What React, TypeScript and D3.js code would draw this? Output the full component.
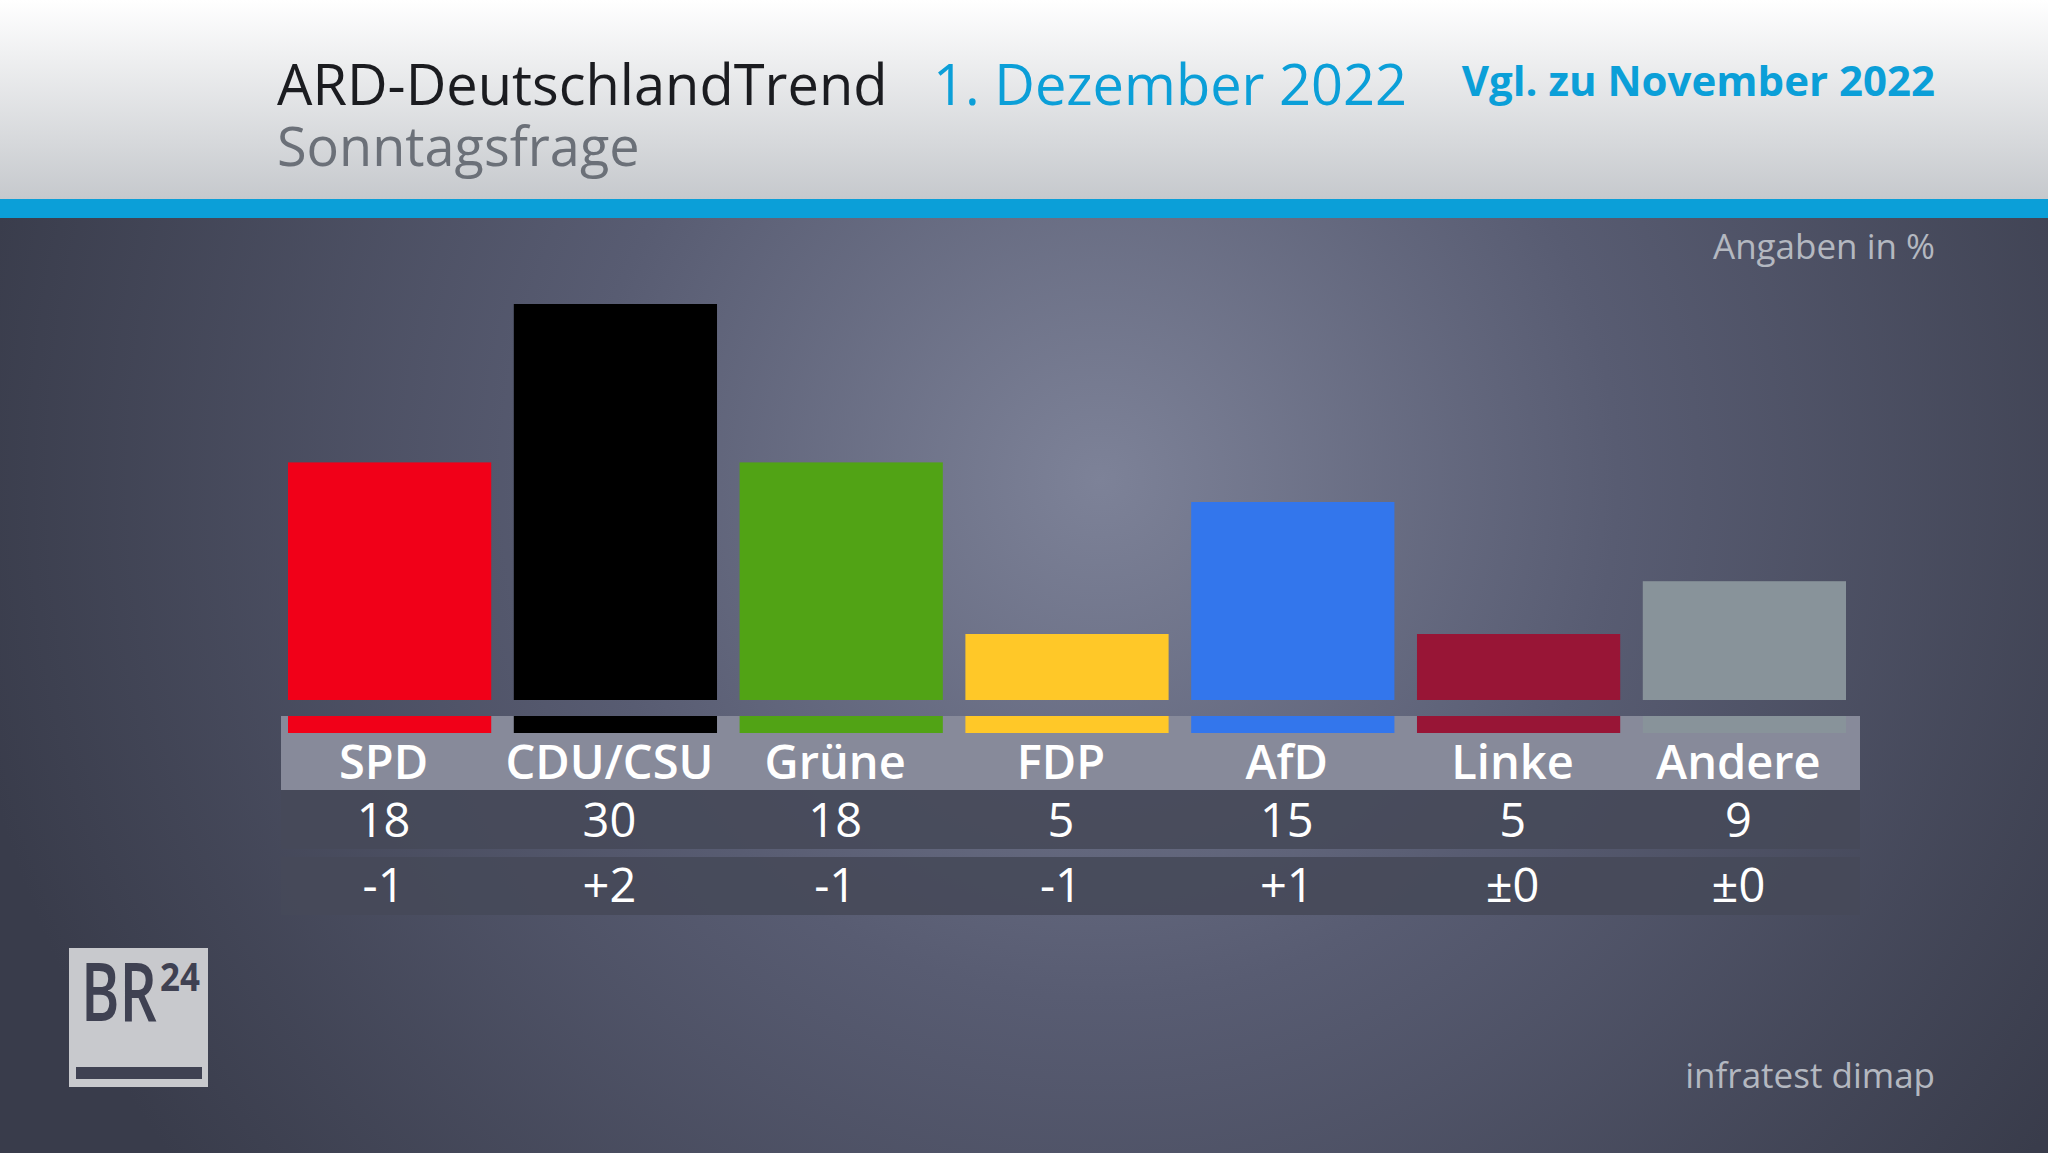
import * as d3 from 'd3'

const parties = ['SPD', 'CDU/CSU', 'Grüne', 'FDP', 'AfD', 'Linke', 'Andere']
const values = [18, 30, 18, 5, 15, 5, 9]
const changes = ['-1', '+2', '-1', '-1', '+1', '±0', '±0']
const partyColors = ['#f10018', '#000000', '#51a315', '#ffc828', '#3376ec', '#981536', '#88939a']

const W = 2048
const H = 1153
const FONT = '"Open Sans", "Noto Sans", sans-serif'

export default function App() {
  const x = d3.scaleBand<string>().domain(parties).range([288, 1846]).paddingInner(0.1).paddingOuter(0)
  const y = d3.scaleLinear().domain([0, 30]).range([700, 304])

  const bandLeft = 281
  const bandRight = 1860

  return (
    <svg width={W} height={H} style={{ position: 'absolute', left: 0, top: 0, display: 'block' }}>
      <defs>
        <linearGradient id="head" x1="0" y1="0" x2="0" y2="1">
          <stop offset="0" stopColor="#ffffff" />
          <stop offset="1" stopColor="#c6c9cd" />
        </linearGradient>
        <radialGradient id="bg" cx="1100" cy="480" r="1150" gradientUnits="userSpaceOnUse">
          <stop offset="0" stopColor="#7d8298" />
          <stop offset="0.45" stopColor="#585c72" />
          <stop offset="1" stopColor="#393c4b" />
        </radialGradient>
      </defs>

      {/* background */}
      <rect x={0} y={0} width={W} height={H} fill="url(#bg)" />
      <rect x={0} y={0} width={W} height={199} fill="url(#head)" />
      <rect x={0} y={199} width={W} height={19} fill="#0b9fd8" />

      {/* header */}
      <text x={277} y={105} fontFamily={FONT} fontSize={56} fill="#1b1c20">ARD-DeutschlandTrend</text>
      <text x={933} y={105} fontFamily={FONT} fontSize={56} fill="#0b9fd8">1. Dezember 2022</text>
      <text x={1935} y={96} textAnchor="end" fontFamily={FONT} fontSize={42} fontWeight={700} fill="#0b9fd8">Vgl. zu November 2022</text>
      <text x={277} y={166} fontFamily={FONT} fontSize={54} fill="#6b7078">Sonntagsfrage</text>

      <text x={1935} y={259} textAnchor="end" fontFamily={FONT} fontSize={35} fill="#b4b8c0">Angaben in %</text>

      {/* bars */}
      {parties.map((p, i) => (
        <rect key={p} x={x(p)} y={y(values[i])} width={x.bandwidth()} height={y(0) - y(values[i])} fill={partyColors[i]} />
      ))}

      {/* label band */}
      <rect x={bandLeft} y={716} width={bandRight - bandLeft} height={74} fill="#878a9a" />
      {parties.map((p, i) => (
        <rect key={p + '-strip'} x={x(p)} y={716} width={x.bandwidth()} height={17} fill={partyColors[i]} />
      ))}
      <rect x={bandLeft} y={790} width={bandRight - bandLeft} height={59} fill="#464959" opacity={0.9} />
      <rect x={bandLeft} y={857} width={bandRight - bandLeft} height={58} fill="#464959" opacity={0.9} />

      {parties.map((p, i) => {
        const cx = (x(p) ?? 0) + x.bandwidth() / 2 - 6
        return (
          <g key={p + '-txt'} fontFamily={FONT} fill="#ffffff" textAnchor="middle">
            <text x={cx} y={779} fontSize={47} fontWeight={600}>{p}</text>
            <text x={cx} y={837} fontSize={47} fontWeight={500}>{values[i]}</text>
            <text x={cx} y={902} fontSize={47} fontWeight={500}>{changes[i]}</text>
          </g>
        )
      })}

      {/* BR24 logo */}
      <rect x={69} y={948} width={139} height={139} fill="#c8c9cd" />
      <text x={81} y={1021} fontFamily={FONT} fontSize={82} fontWeight={600} fill="#3f4152" textLength={76} lengthAdjust="spacingAndGlyphs">BR</text>
      <text x={160} y={991} fontFamily={FONT} fontSize={40} fontWeight={700} fill="#3f4152" textLength={40} lengthAdjust="spacingAndGlyphs">24</text>
      <rect x={76} y={1067} width={126} height={12} fill="#3f4152" />

      <text x={1935} y={1088} textAnchor="end" fontFamily={FONT} fontSize={35} fill="#b4b8c0">infratest dimap</text>
    </svg>
  )
}
